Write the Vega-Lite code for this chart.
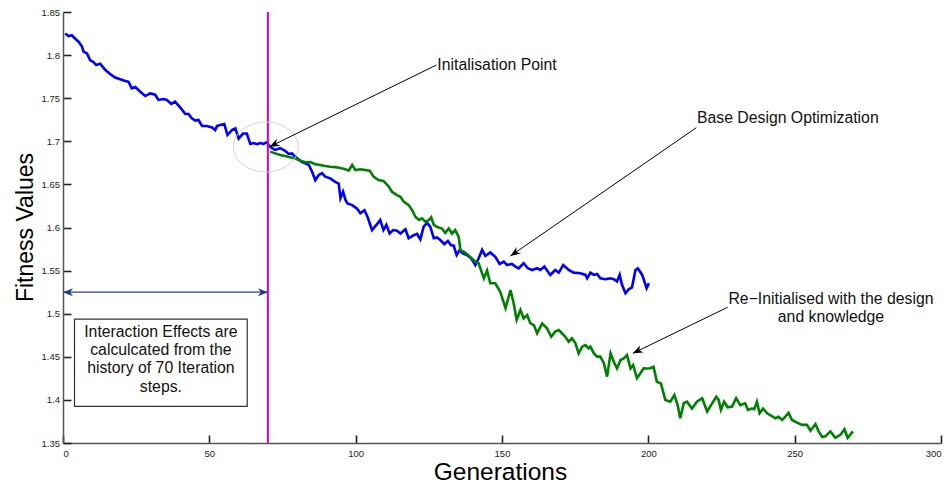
{
  "$schema": "https://vega.github.io/schema/vega-lite/v6.json",
  "width": 878,
  "height": 431,
  "autosize": "none",
  "padding": {"left": 63, "top": 12, "right": 10, "bottom": 44},
  "background": "white",
  "config": {
    "view": {"stroke": null},
    "font": "Liberation Sans",
    "axis": {
      "grid": false,
      "domainColor": "#555555",
      "domainWidth": 1.5,
      "ticks": true,
      "tickSize": -8,
      "tickColor": "#222222",
      "tickWidth": 1.6,
      "labelColor": "#222222",
      "labelFont": "Liberation Sans",
      "labelFontSize": 9.5,
      "titleFont": "Liberation Sans",
      "titleFontWeight": "normal",
      "titleColor": "#000000"
    }
  },
  "datasets": {
    "blue": [
      {"x":0.75,"y":1.825},{"x":1.9,"y":1.822},{"x":3,"y":1.823},{"x":4.2,"y":1.819},{"x":5.3,"y":1.8155},
      {"x":6.5,"y":1.81},{"x":7,"y":1.804},{"x":8.2,"y":1.802},{"x":9.3,"y":1.794},{"x":10.4,"y":1.792},
      {"x":11.3,"y":1.7885},{"x":12.7,"y":1.79},{"x":14.4,"y":1.783},{"x":16.1,"y":1.778},{"x":17.8,"y":1.774},
      {"x":19.5,"y":1.772},{"x":21.3,"y":1.77},{"x":22.4,"y":1.769},{"x":23.5,"y":1.7615},{"x":24.7,"y":1.763},
      {"x":26.4,"y":1.7575},{"x":28.1,"y":1.7525},{"x":29.8,"y":1.7555},{"x":31.5,"y":1.754},{"x":32.6,"y":1.748},
      {"x":34.3,"y":1.749},{"x":35.5,"y":1.748},{"x":37,"y":1.7433},{"x":38.3,"y":1.746},{"x":40.1,"y":1.739},
      {"x":41.8,"y":1.7317},{"x":42.9,"y":1.7317},{"x":44,"y":1.7267},{"x":45.2,"y":1.724},{"x":46.3,"y":1.7247},
      {"x":47.5,"y":1.7178},{"x":49.2,"y":1.7178},{"x":50.9,"y":1.716},{"x":52,"y":1.713},{"x":52.6,"y":1.7178},
      {"x":53.7,"y":1.719},{"x":55.1,"y":1.72},{"x":56.2,"y":1.7073},{"x":57.7,"y":1.713},{"x":58.9,"y":1.715},
      {"x":60,"y":1.703},{"x":61.5,"y":1.709},{"x":62.8,"y":1.709},{"x":64,"y":1.697},{"x":65.1,"y":1.698},
      {"x":66.3,"y":1.6967},{"x":67.4,"y":1.698},{"x":68.5,"y":1.697},{"x":69.7,"y":1.699},{"x":70.2,"y":1.6957},
      {"x":71.4,"y":1.692},{"x":72.5,"y":1.69},{"x":74.2,"y":1.692},{"x":75.9,"y":1.689},{"x":77.1,"y":1.6853},
      {"x":78.2,"y":1.686},{"x":79.4,"y":1.682},{"x":80.5,"y":1.679},{"x":81.7,"y":1.676},{"x":82.8,"y":1.6745},
      {"x":84,"y":1.6725},{"x":85.1,"y":1.6647},{"x":86.2,"y":1.655},{"x":87.4,"y":1.661},{"x":88.5,"y":1.663},
      {"x":89.6,"y":1.659},{"x":91.3,"y":1.657},{"x":93,"y":1.653},{"x":94.2,"y":1.651},{"x":94.8,"y":1.634},
      {"x":95.7,"y":1.6415},{"x":96.5,"y":1.632},{"x":97.2,"y":1.628},{"x":98.8,"y":1.626},{"x":100.4,"y":1.622},
      {"x":101.6,"y":1.6165},{"x":103,"y":1.62},{"x":104.1,"y":1.6118},{"x":105.6,"y":1.597},{"x":107.3,"y":1.604},
      {"x":108.4,"y":1.6087},{"x":109.5,"y":1.597},{"x":110.5,"y":1.603},{"x":111.6,"y":1.593},{"x":112.8,"y":1.597},
      {"x":114.1,"y":1.5963},{"x":115.3,"y":1.593},{"x":117,"y":1.598},{"x":118.1,"y":1.5875},{"x":119.8,"y":1.591},
      {"x":121,"y":1.5925},{"x":122.1,"y":1.5863},{"x":123.2,"y":1.6007},{"x":124.4,"y":1.6055},{"x":125.5,"y":1.6007},
      {"x":126.7,"y":1.5875},{"x":127.8,"y":1.5885},{"x":128.9,"y":1.5855},{"x":130.3,"y":1.5807},{"x":131.5,"y":1.5845},
      {"x":132.5,"y":1.5797},{"x":133.5,"y":1.579},{"x":134.5,"y":1.568},{"x":135.5,"y":1.5737},{"x":136.6,"y":1.57},
      {"x":138,"y":1.568},{"x":139.5,"y":1.564},{"x":140.9,"y":1.5565},{"x":142,"y":1.564},{"x":143.2,"y":1.574},
      {"x":144.3,"y":1.567},{"x":146,"y":1.571},{"x":147.7,"y":1.566},{"x":149.2,"y":1.5577},{"x":150.6,"y":1.5605},
      {"x":151.7,"y":1.5565},{"x":153.4,"y":1.5577},{"x":154.6,"y":1.5547},{"x":155.7,"y":1.5527},{"x":157.4,"y":1.5585},
      {"x":158.8,"y":1.5527},{"x":160.3,"y":1.5507},{"x":162,"y":1.5527},{"x":163.1,"y":1.5507},{"x":164.5,"y":1.5547},
      {"x":165.4,"y":1.55},{"x":166.5,"y":1.545},{"x":168.2,"y":1.5507},{"x":169.4,"y":1.5476},{"x":170.9,"y":1.5565},
      {"x":172.8,"y":1.5507},{"x":174.5,"y":1.5476},{"x":176.8,"y":1.547},{"x":178.5,"y":1.545},{"x":179.1,"y":1.541},
      {"x":180.2,"y":1.5476},{"x":181.4,"y":1.545},{"x":182.5,"y":1.546},{"x":183.6,"y":1.541},{"x":185.3,"y":1.54},
      {"x":187,"y":1.541},{"x":188.2,"y":1.54},{"x":189.3,"y":1.5373},{"x":190.2,"y":1.545},{"x":191,"y":1.5335},
      {"x":192.2,"y":1.5237},{"x":193.3,"y":1.5283},{"x":194.4,"y":1.5305},{"x":195.6,"y":1.5507},{"x":196.4,"y":1.5527},
      {"x":197.9,"y":1.545},{"x":199.4,"y":1.5295},{"x":200.2,"y":1.5355}
    ],
    "green": [
      {"x":70.8,"y":1.688},{"x":72.5,"y":1.686},{"x":74.2,"y":1.684},{"x":75.9,"y":1.683},{"x":77.6,"y":1.6815},
      {"x":79.4,"y":1.68},{"x":81.1,"y":1.6775},{"x":82.8,"y":1.6757},{"x":84.5,"y":1.676},{"x":86.2,"y":1.6735},
      {"x":87.9,"y":1.6725},{"x":89.6,"y":1.6713},{"x":91.3,"y":1.6705},{"x":93,"y":1.67},{"x":94.8,"y":1.669},
      {"x":96.5,"y":1.6675},{"x":97.6,"y":1.666},{"x":98.8,"y":1.6725},{"x":99.9,"y":1.6667},{"x":101.6,"y":1.6675},
      {"x":103.3,"y":1.6667},{"x":104.8,"y":1.666},{"x":106.1,"y":1.659},{"x":107.8,"y":1.655},{"x":109.5,"y":1.654},
      {"x":111.3,"y":1.6475},{"x":112.4,"y":1.6415},{"x":114.1,"y":1.6375},{"x":115.3,"y":1.6357},{"x":116.4,"y":1.63},
      {"x":118.1,"y":1.626},{"x":119.3,"y":1.62},{"x":120.4,"y":1.6125},{"x":121.6,"y":1.6087},{"x":122.7,"y":1.6107},
      {"x":123.9,"y":1.6065},{"x":125,"y":1.6087},{"x":125.8,"y":1.6118},{"x":126.7,"y":1.603},{"x":127.8,"y":1.6007},
      {"x":129.5,"y":1.5988},{"x":130.6,"y":1.5937},{"x":131.8,"y":1.5988},{"x":132.9,"y":1.593},{"x":134,"y":1.597},
      {"x":135.2,"y":1.589},{"x":135.8,"y":1.5737},{"x":136.9,"y":1.572},{"x":138.4,"y":1.568},{"x":139.7,"y":1.564},
      {"x":140.9,"y":1.5603},{"x":142,"y":1.5585},{"x":143.8,"y":1.541},{"x":144.9,"y":1.55},{"x":146,"y":1.5353},
      {"x":147.7,"y":1.5353},{"x":149.4,"y":1.5255},{"x":151.2,"y":1.5063},{"x":152.9,"y":1.5275},{"x":154,"y":1.5118},
      {"x":155,"y":1.4927},{"x":156.3,"y":1.5043},{"x":157.4,"y":1.4945},{"x":158.6,"y":1.4985},{"x":159.7,"y":1.4888},
      {"x":160.9,"y":1.4868},{"x":162,"y":1.4773},{"x":163.7,"y":1.4888},{"x":165.4,"y":1.483},{"x":166.8,"y":1.4733},
      {"x":168.2,"y":1.4792},{"x":169.4,"y":1.481},{"x":170.5,"y":1.4773},{"x":171.6,"y":1.4733},{"x":172.8,"y":1.4675},
      {"x":173.9,"y":1.4715},{"x":175.1,"y":1.4657},{"x":176.2,"y":1.454},{"x":177.4,"y":1.4617},{"x":178.5,"y":1.4637},
      {"x":179.6,"y":1.4598},{"x":180.2,"y":1.4617},{"x":181.4,"y":1.454},{"x":182.5,"y":1.4502},{"x":183.6,"y":1.4502},
      {"x":184.8,"y":1.4425},{"x":185.9,"y":1.427},{"x":187.1,"y":1.454},{"x":188.2,"y":1.4443},{"x":189.3,"y":1.4365},
      {"x":190.5,"y":1.4463},{"x":191.6,"y":1.4482},{"x":192.7,"y":1.452},{"x":193.9,"y":1.4365},{"x":194.8,"y":1.4405},
      {"x":196.1,"y":1.4253},{"x":197.3,"y":1.431},{"x":198.4,"y":1.4367},{"x":199.5,"y":1.4365},{"x":200.6,"y":1.4367},
      {"x":201.8,"y":1.4385},{"x":202.9,"y":1.421},{"x":204.3,"y":1.419},{"x":205.8,"y":1.4},{"x":207.5,"y":1.398},
      {"x":208.9,"y":1.4057},{"x":210,"y":1.394},{"x":210.9,"y":1.3787},{"x":212.1,"y":1.3962},{"x":213.2,"y":1.398},
      {"x":214.9,"y":1.39},{"x":216.6,"y":1.398},{"x":218.4,"y":1.402},{"x":220.1,"y":1.3865},{"x":221.8,"y":1.396},
      {"x":223.2,"y":1.4037},{"x":224,"y":1.4},{"x":224.8,"y":1.3885},{"x":225.9,"y":1.398},{"x":227.1,"y":1.3915},
      {"x":228.6,"y":1.3922},{"x":230,"y":1.402},{"x":231.4,"y":1.394},{"x":233.1,"y":1.396},{"x":234,"y":1.3885},
      {"x":235.4,"y":1.39},{"x":236.2,"y":1.3893},{"x":237.1,"y":1.398},{"x":238,"y":1.3845},{"x":239.2,"y":1.39},
      {"x":240.6,"y":1.3845},{"x":242.2,"y":1.3813},{"x":243.4,"y":1.3787},{"x":244.5,"y":1.3805},{"x":245.7,"y":1.3767},
      {"x":246.8,"y":1.3805},{"x":247.9,"y":1.385},{"x":249.1,"y":1.3767},{"x":250.8,"y":1.3736},{"x":252.5,"y":1.371},
      {"x":254.2,"y":1.371},{"x":255.4,"y":1.3643},{"x":257.1,"y":1.372},{"x":258.2,"y":1.3635},{"x":259.4,"y":1.357},
      {"x":260.5,"y":1.3577},{"x":262.2,"y":1.3635},{"x":263.9,"y":1.356},{"x":265.7,"y":1.3597},{"x":267,"y":1.366},
      {"x":268.1,"y":1.356},{"x":269.9,"y":1.3635}
    ],
    "arrows": [
      {"id":"init","x":127.6,"y":1.7885,"x2":70.6,"y2":1.6937},
      {"id":"base","x":216.4,"y":1.7158,"x2":152.9,"y2":1.567},
      {"id":"reinit","x":227.1,"y":1.5075,"x2":194.7,"y2":1.454}
    ],
    "span": [{"x":0,"x2":70,"y":1.525}],
    "leftLabels": [
      {"text":"Initalisation Point","x":127.9,"y":1.7885},
      {"text":"Base Design Optimization","x":216.6,"y":1.7267}
    ],
    "centerLabels": [
      {"text":"Re−Initialised with the design","x":262.4,"y":1.517},
      {"text":"and knowledge","x":262.4,"y":1.4965},
      {"text":"Interaction Effects are","x":33.45,"y":1.4791},
      {"text":"calculcated from the","x":33.45,"y":1.4579},
      {"text":"history of 70 Iteration","x":33.45,"y":1.4373},
      {"text":"steps.","x":33.45,"y":1.4152}
    ]
  },
  "layer": [
    {
      "data": {"name": "blue"},
      "mark": {"type": "line", "color": "#0000ff", "strokeWidth": 2.6},
      "encoding": {
        "x": {"field": "x", "type": "quantitative", "title": "Generations",
              "scale": {"domain": [0, 300], "nice": false, "zero": false},
              "axis": {"values": [0, 50, 100, 150, 200, 250, 300], "ticks": true, "tickSize": -8, "tickColor": "#222222", "tickWidth": 1.6,
                       "labelPadding": 13, "titleFontSize": 24.5, "titleX": 437, "titleY": 36, "titleBaseline": "alphabetic", "titleAlign": "center"}},
        "y": {"field": "y", "type": "quantitative", "title": "Fitness Values",
              "scale": {"domain": [1.35, 1.85], "nice": false, "zero": false},
              "axis": {"values": [1.35, 1.4, 1.45, 1.5, 1.55, 1.6, 1.65, 1.7, 1.75, 1.8, 1.85], "format": ".2~f", "ticks": true, "tickSize": -8, "tickColor": "#222222", "tickWidth": 1.6,
                       "labelPadding": 11.5, "titleFontSize": 23, "titleX": -31, "titleY": 215, "titleBaseline": "alphabetic", "titleAlign": "center"}}
      }
    },
    {
      "data": {"name": "green"},
      "mark": {"type": "line", "color": "#008000", "strokeWidth": 2.6},
      "encoding": {
        "x": {"field": "x", "type": "quantitative"},
        "y": {"field": "y", "type": "quantitative"}
      }
    },
    {
      "data": {"values": [{"x": 70}]},
      "mark": {"type": "rule", "color": "#cc00cc", "strokeWidth": 2},
      "encoding": {"x": {"field": "x", "type": "quantitative"}}
    },
    {
      "data": {"values": [{"x": 69.3, "y": 1.6934}]},
      "mark": {"type": "point", "filled": false, "stroke": "#d4d4d4", "strokeWidth": 1,
               "shape": "M1.3,0C1.3,0.5523 0.718,1 0,1C-0.718,1 -1.3,0.5523 -1.3,0C-1.3,-0.5523 -0.718,-1 0,-1C0.718,-1 1.3,-0.5523 1.3,0Z",
               "size": 2500, "opacity": 1},
      "encoding": {"x": {"field": "x", "type": "quantitative"}, "y": {"field": "y", "type": "quantitative"}}
    },
    {
      "data": {"name": "span"},
      "mark": {"type": "rule", "color": "#2a3f9e", "strokeWidth": 1.2},
      "encoding": {"x": {"field": "x", "type": "quantitative"}, "x2": {"field": "x2"}, "y": {"field": "y", "type": "quantitative"}}
    },
    {
      "data": {"name": "span"},
      "mark": {"type": "point", "filled": true, "color": "#1f3494", "opacity": 1, "angle": 270, "size": 400,
               "shape": "M0,0L-0.4,1L0,0.7L0.4,1Z"},
      "encoding": {"x": {"field": "x", "type": "quantitative"}, "y": {"field": "y", "type": "quantitative"}}
    },
    {
      "data": {"name": "span"},
      "mark": {"type": "point", "filled": true, "color": "#1f3494", "opacity": 1, "angle": 90, "size": 400,
               "shape": "M0,0L-0.4,1L0,0.7L0.4,1Z"},
      "encoding": {"x": {"field": "x2", "type": "quantitative"}, "y": {"field": "y", "type": "quantitative"}}
    },
    {
      "data": {"name": "arrows"},
      "mark": {"type": "rule", "color": "#000000", "strokeWidth": 1},
      "encoding": {"x": {"field": "x", "type": "quantitative"}, "y": {"field": "y", "type": "quantitative"}, "x2": {"field": "x2"}, "y2": {"field": "y2"}}
    },
    {
      "data": {"name": "arrows"},
      "transform": [{"filter": "datum.id === 'init'"}],
      "mark": {"type": "point", "filled": true, "color": "#000000", "opacity": 1, "angle": 243.8, "size": 400,
               "shape": "M0,0L-0.4,1L0,0.7L0.4,1Z"},
      "encoding": {"x": {"field": "x2", "type": "quantitative"}, "y": {"field": "y2", "type": "quantitative"}}
    },
    {
      "data": {"name": "arrows"},
      "transform": [{"filter": "datum.id === 'base'"}],
      "mark": {"type": "point", "filled": true, "color": "#000000", "opacity": 1, "angle": 235.4, "size": 400,
               "shape": "M0,0L-0.4,1L0,0.7L0.4,1Z"},
      "encoding": {"x": {"field": "x2", "type": "quantitative"}, "y": {"field": "y2", "type": "quantitative"}}
    },
    {
      "data": {"name": "arrows"},
      "transform": [{"filter": "datum.id === 'reinit'"}],
      "mark": {"type": "point", "filled": true, "color": "#000000", "opacity": 1, "angle": 244.1, "size": 400,
               "shape": "M0,0L-0.4,1L0,0.7L0.4,1Z"},
      "encoding": {"x": {"field": "x2", "type": "quantitative"}, "y": {"field": "y2", "type": "quantitative"}}
    },
    {
      "data": {"values": [{"x": 3.93, "x2": 62.95, "y": 1.4938, "y2": 1.3926}]},
      "mark": {"type": "rect", "fill": "#ffffff", "stroke": "#333333", "strokeWidth": 1.2},
      "encoding": {"x": {"field": "x", "type": "quantitative"}, "x2": {"field": "x2"}, "y": {"field": "y", "type": "quantitative"}, "y2": {"field": "y2"}}
    },
    {
      "data": {"name": "leftLabels"},
      "mark": {"type": "text", "align": "left", "baseline": "middle", "fontSize": 15.8, "color": "#111111", "font": "Liberation Sans"},
      "encoding": {"x": {"field": "x", "type": "quantitative"}, "y": {"field": "y", "type": "quantitative"}, "text": {"field": "text"}}
    },
    {
      "data": {"name": "centerLabels"},
      "mark": {"type": "text", "align": "center", "baseline": "middle", "fontSize": 15.8, "color": "#111111", "font": "Liberation Sans"},
      "encoding": {"x": {"field": "x", "type": "quantitative"}, "y": {"field": "y", "type": "quantitative"}, "text": {"field": "text"}}
    }
  ]
}
